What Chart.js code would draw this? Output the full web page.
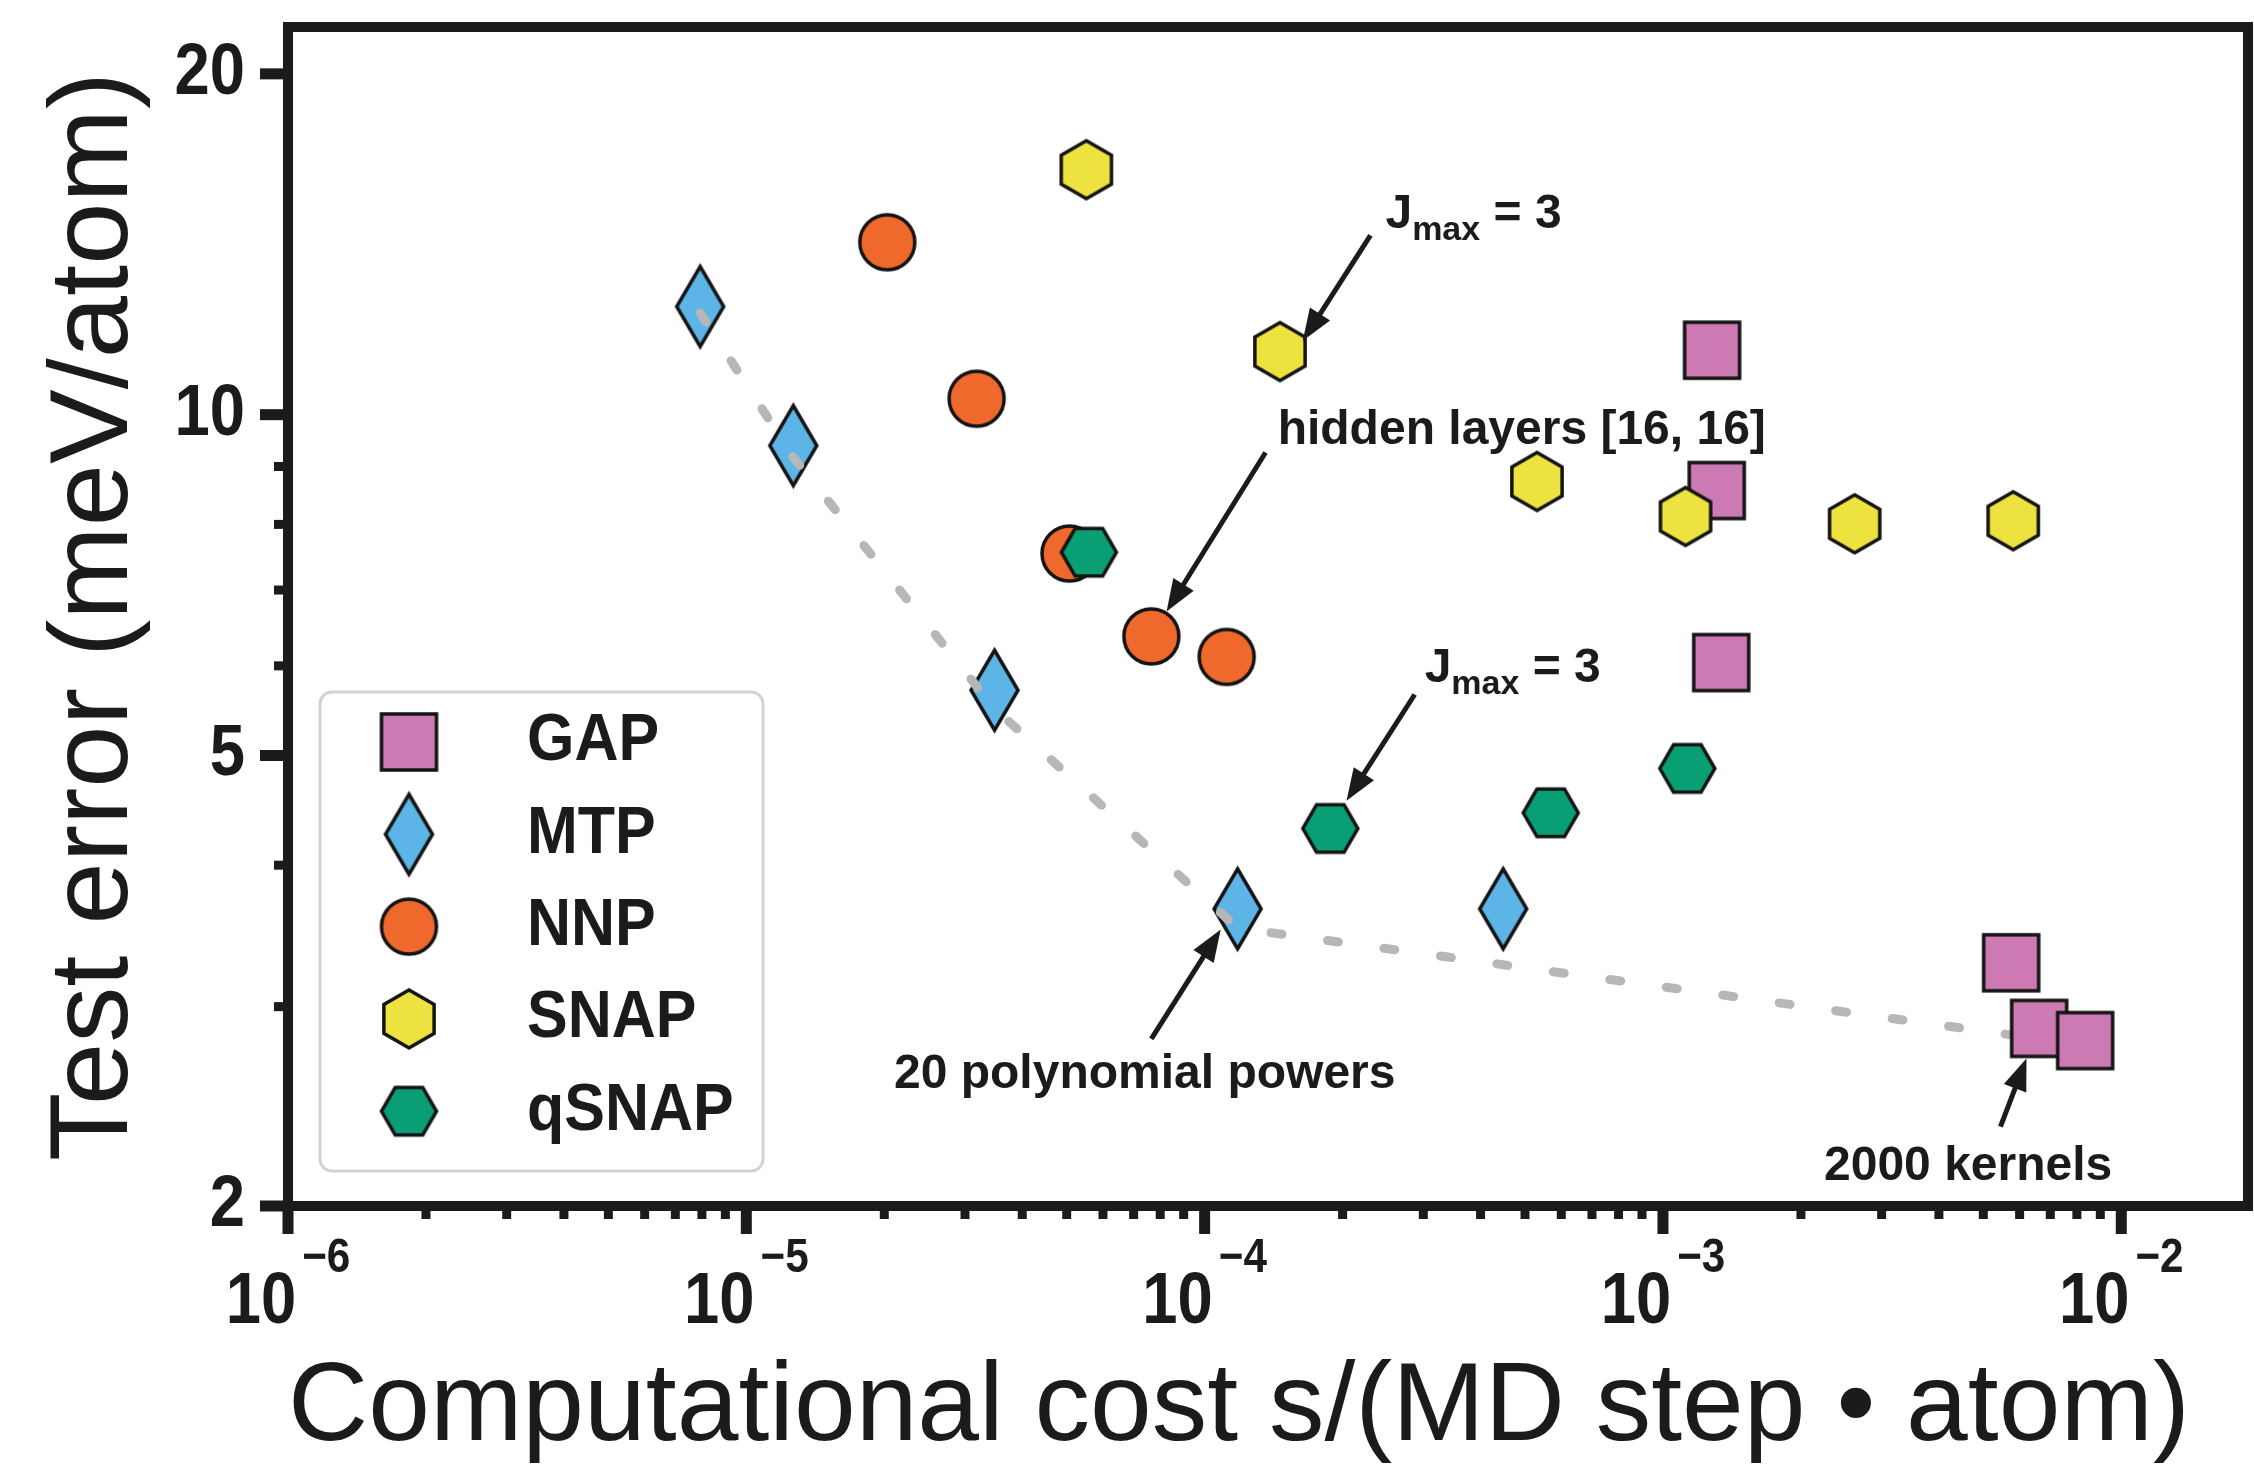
<!DOCTYPE html>
<html>
<head>
<meta charset="utf-8">
<script src="https://cdn.jsdelivr.net/npm/chart.js@4.4.1/dist/chart.umd.min.js"></script>
<style>
  html, body { margin: 0; padding: 0; background: #fff; }
  #wrap { width: 2254px; height: 1470px; position: relative; }
</style>
</head>
<body>
<div id="wrap"><canvas id="chart"></canvas></div>
<script>
// values: cost in s/(MD step · atom), test error in meV/atom
const gapCost = [1.28e-3, 1.31e-3, 1.34e-3, 5.75e-3, 6.62e-3, 8.34e-3];
const gapError = [11.4, 8.57, 6.04, 3.28, 2.87, 2.80];

const mtpCost = [7.93e-6, 1.266e-5, 3.48e-5, 1.18e-4, 4.48e-4];
const mtpError = [12.46, 9.39, 5.71, 3.66, 3.66];

const nnpCost = [2.03e-5, 3.18e-5, 5.07e-5, 7.65e-5, 1.117e-4];
const nnpError = [14.2, 10.33, 7.54, 6.37, 6.11];

const snapCost = [5.52e-5, 1.46e-4, 5.31e-4, 1.12e-3, 2.62e-3, 5.81e-3];
const snapError = [16.46, 11.37, 8.73, 8.13, 8.01, 8.06];

const qsnapCost = [5.59e-5, 1.88e-4, 5.69e-4, 1.13e-3];
const qsnapError = [7.56, 4.31, 4.45, 4.87];

// dotted pareto front
const frontCost = [7.93e-6, 1.266e-5, 3.48e-5, 1.18e-4, 6.62e-3];
const frontError = [12.3, 9.17, 5.50, 3.52, 2.81];

const seriesNames = ['GAP', 'MTP', 'NNP', 'SNAP', 'qSNAP'];

// axes
const yMajorTicks = [2, 5, 10, 20];
const yMinorTicks = [3, 4, 6, 7, 8, 9];
const xMajorTicks = [1e-6, 1e-5, 1e-4, 1e-3, 1e-2];
const xTickExponents = ['\u22126', '\u22125', '\u22124', '\u22123', '\u22122'];
const xMinorSteps = [2, 3, 4, 5, 6, 7, 8, 9];
const xTitle = 'Computational cost s/(MD step \u2022 atom)';
const yTitle = 'Test error (meV/atom)';

// annotations (anchor = left end of text baseline)
const noteParts = [
    [['J', 0], ['max', 1], [' = 3', 0]],
    [['hidden layers [16, 16]', 0]],
    [['J', 0], ['max', 1], [' = 3', 0]],
    [['20 polynomial powers', 0]],
    [['2000 kernels', 0]]
];
const noteX = [2.48e-4, 1.443e-4, 3.02e-4, 2.10e-5, 2.246e-3];
const noteY = [14.63, 9.43, 5.81, 2.54, 2.11];
const arrowFromX = [2.30e-4, 1.358e-4, 2.873e-4, 7.65e-5, 5.45e-3];
const arrowFromY = [14.4, 9.26, 5.66, 2.81, 2.35];
const arrowToX = [1.637e-4, 8.26e-5, 2.04e-4, 1.084e-4, 6.21e-3];
const arrowToY = [11.62, 6.70, 4.56, 3.51, 2.70];

const INK = '#1b1b1b';
const FONT = "'Liberation Sans', Arial, Helvetica, sans-serif";

function toPoints(xs, ys) {
    return xs.map((x, i) => ({ x: x, y: ys[i] }));
}

// marker glyphs as small canvases (chart.js has no hexagon / thin diamond)
function makeMarker(kind, fill) {
    const c = document.createElement('canvas');
    const lw = 3.5;
    let w, h;
    if (kind === 'square') { w = 55; h = 56; }
    else if (kind === 'diamond') { w = 47; h = 80; }
    else if (kind === 'circle') { w = 55; h = 55; }
    else if (kind === 'hexUp') { w = 50; h = 58; }
    else { w = 55; h = 48; }
    c.width = Math.ceil(w + 14);
    c.height = Math.ceil(h + 14);
    const g = c.getContext('2d');
    g.translate(c.width / 2, c.height / 2);
    g.beginPath();
    if (kind === 'square') {
        g.rect(-w / 2, -h / 2, w, h);
    } else if (kind === 'diamond') {
        g.moveTo(0, -h / 2); g.lineTo(w / 2, 0); g.lineTo(0, h / 2); g.lineTo(-w / 2, 0);
        g.closePath();
    } else if (kind === 'circle') {
        g.arc(0, 0, w / 2, 0, Math.PI * 2);
    } else {
        const r = kind === 'hexUp' ? h / 2 : w / 2;
        const start = kind === 'hexUp' ? -Math.PI / 2 : 0;
        for (let k = 0; k < 6; k++) {
            const a = start + k * Math.PI / 3;
            if (k === 0) g.moveTo(r * Math.cos(a), r * Math.sin(a));
            else g.lineTo(r * Math.cos(a), r * Math.sin(a));
        }
        g.closePath();
    }
    g.fillStyle = fill;
    g.fill();
    g.lineWidth = lw;
    g.lineJoin = 'miter';
    g.strokeStyle = '#141414';
    g.stroke();
    return c;
}

const markers = [
    makeMarker('square', '#CD7AB4'),
    makeMarker('diamond', '#5DB4E6'),
    makeMarker('circle', '#F0692C'),
    makeMarker('hexUp', '#EDE23F'),
    makeMarker('hexFlat', '#0A9E74')
];

// frame + tick marks + tick labels
const axesPlugin = {
    id: 'axesPlugin',
    beforeDatasetsDraw(chart) {
        const { ctx, chartArea: a, scales: { x, y } } = chart;
        ctx.save();
        ctx.strokeStyle = INK;
        ctx.lineWidth = 10;
        ctx.strokeRect(a.left, a.top, a.right - a.left, a.bottom - a.top);

        const tick = (x1, y1, x2, y2, w) => {
            ctx.lineWidth = w;
            ctx.beginPath(); ctx.moveTo(x1, y1); ctx.lineTo(x2, y2); ctx.stroke();
        };
        yMajorTicks.forEach(v => {
            const py = y.getPixelForValue(v);
            tick(a.left - 28, py, a.left, py, 11);
        });
        yMinorTicks.forEach(v => {
            const py = y.getPixelForValue(v);
            tick(a.left - 14, py, a.left, py, 9);
        });
        xMajorTicks.forEach(v => {
            const px = x.getPixelForValue(v);
            tick(px, a.bottom, px, a.bottom + 28, 11);
        });
        xMajorTicks.forEach(d => {
            xMinorSteps.forEach(m => {
                const v = d * m;
                if (v >= x.max) return;
                const px = x.getPixelForValue(v);
                tick(px, a.bottom, px, a.bottom + 13, 9);
            });
        });

        // labels, slightly condensed bold
        const squeeze = 0.88;
        ctx.fillStyle = INK;
        ctx.textBaseline = 'middle';
        ctx.textAlign = 'right';
        ctx.font = 'bold 72px ' + FONT;
        yMajorTicks.forEach(v => {
            const py = y.getPixelForValue(v);
            ctx.save();
            ctx.translate(a.left - 43, py);
            ctx.scale(squeeze, 1);
            ctx.fillText(String(v), 0, 0);
            ctx.restore();
        });

        ctx.textBaseline = 'alphabetic';
        ctx.textAlign = 'left';
        xMajorTicks.forEach((v, i) => {
            const px = x.getPixelForValue(v);
            ctx.font = 'bold 72px ' + FONT;
            const wb = ctx.measureText('10').width * squeeze;
            ctx.font = 'bold 48px ' + FONT;
            const we = ctx.measureText(xTickExponents[i]).width * squeeze;
            const gap = 6;
            const start = px - (wb + gap + we) / 2;
            ctx.save();
            ctx.translate(start, a.bottom + 117);
            ctx.scale(squeeze, 1);
            ctx.font = 'bold 72px ' + FONT;
            ctx.fillText('10', 0, 0);
            ctx.restore();
            ctx.save();
            ctx.translate(start + wb + gap, a.bottom + 66);
            ctx.scale(squeeze, 1);
            ctx.font = 'bold 48px ' + FONT;
            ctx.fillText(xTickExponents[i], 0, 0);
            ctx.restore();
        });
        ctx.restore();
    }
};

// arrows and their text
const notesPlugin = {
    id: 'notesPlugin',
    afterDatasetsDraw(chart) {
        const { ctx, scales: { x, y } } = chart;
        ctx.save();
        ctx.fillStyle = INK;
        ctx.strokeStyle = INK;
        ctx.textBaseline = 'alphabetic';
        ctx.textAlign = 'left';
        noteParts.forEach((parts, i) => {
            let px = x.getPixelForValue(noteX[i]);
            const py = y.getPixelForValue(noteY[i]);
            parts.forEach(([txt, sub]) => {
                ctx.font = sub ? 'bold 34px ' + FONT : 'bold 48px ' + FONT;
                ctx.fillText(txt, px, sub ? py + 12 : py);
                px += ctx.measureText(txt).width;
            });

            const x1 = x.getPixelForValue(arrowFromX[i]);
            const y1 = y.getPixelForValue(arrowFromY[i]);
            const x2 = x.getPixelForValue(arrowToX[i]);
            const y2 = y.getPixelForValue(arrowToY[i]);
            const len = Math.hypot(x2 - x1, y2 - y1);
            const ux = (x2 - x1) / len, uy = (y2 - y1) / len;
            const head = 32, half = 12;
            const bx = x2 - ux * head, by = y2 - uy * head;
            ctx.lineWidth = 5;
            ctx.beginPath(); ctx.moveTo(x1, y1); ctx.lineTo(bx + ux * 4, by + uy * 4); ctx.stroke();
            ctx.beginPath();
            ctx.moveTo(x2, y2);
            ctx.lineTo(bx - uy * half, by + ux * half);
            ctx.lineTo(bx + uy * half, by - ux * half);
            ctx.closePath();
            ctx.fill();
        });
        ctx.restore();
    }
};

// boxed legend in lower left of the plot
const legendPlugin = {
    id: 'legendPlugin',
    afterDraw(chart) {
        const { ctx, chartArea: a } = chart;
        const left = a.left + 32, bottom = a.bottom - 35;
        const w = 443, h = 479, top = bottom - h;
        ctx.save();
        ctx.beginPath();
        ctx.roundRect(left, top, w, h, 12);
        ctx.fillStyle = 'rgba(255,255,255,0.85)';
        ctx.fill();
        ctx.lineWidth = 3;
        ctx.strokeStyle = '#d2d2d2';
        ctx.stroke();

        ctx.fillStyle = INK;
        ctx.textBaseline = 'middle';
        ctx.textAlign = 'left';
        ctx.font = 'bold 67px ' + FONT;
        seriesNames.forEach((name, i) => {
            const cy = top + 50 + i * 92.3;
            const m = markers[i];
            ctx.drawImage(m, left + 89 - m.width / 2, cy - m.height / 2);
            ctx.save();
            ctx.translate(left + 207, cy);
            ctx.scale(0.91, 1);
            ctx.fillText(name, 0, 0);
            ctx.restore();
        });
        ctx.restore();
    }
};

const pointSet = (i, xs, ys, order) => ({
    label: seriesNames[i],
    data: toPoints(xs, ys),
    pointStyle: markers[i],
    pointRadius: 28,
    order: order
});

new Chart(document.getElementById('chart'), {
    type: 'scatter',
    data: {
        datasets: [
            pointSet(0, gapCost, gapError, 4),
            pointSet(1, mtpCost, mtpError, 6),
            pointSet(2, nnpCost, nnpError, 3),
            pointSet(3, snapCost, snapError, 2),
            pointSet(4, qsnapCost, qsnapError, 1),
            {
                label: 'front',
                data: toPoints(frontCost, frontError),
                showLine: true,
                pointRadius: 0,
                borderColor: '#b7b7b7',
                borderWidth: 9,
                borderDash: [11, 46],
                borderCapStyle: 'round',
                tension: 0,
                order: 5
            }
        ]
    },
    options: {
        responsive: true,
        maintainAspectRatio: false,
        animation: false,
        events: [],
        layout: { autoPadding: false, padding: { top: 27, right: 6, left: 0, bottom: 0 } },
        plugins: {
            legend: { display: false },
            tooltip: { enabled: false }
        },
        scales: {
            x: {
                type: 'logarithmic',
                min: 1e-6,
                max: 0.0189,
                afterBuildTicks: s => { s.ticks = xMajorTicks.map(v => ({ value: v })); },
                afterFit: s => { s.height = 264; },
                ticks: { display: false },
                grid: { display: false },
                border: { display: false },
                title: {
                    display: true,
                    text: xTitle,
                    align: 'start',
                    color: INK,
                    padding: 0,
                    font: { family: FONT, size: 111, lineHeight: 1.1 }
                }
            },
            y: {
                type: 'logarithmic',
                min: 2,
                max: 22,
                afterBuildTicks: s => { s.ticks = yMajorTicks.map(v => ({ value: v })); },
                afterFit: s => { s.width = 288; },
                ticks: { display: false },
                grid: { display: false },
                border: { display: false },
                title: {
                    display: true,
                    text: yTitle,
                    color: INK,
                    padding: { top: 35, bottom: 0 },
                    font: { family: FONT, size: 112, lineHeight: 1.1 }
                }
            }
        }
    },
    plugins: [axesPlugin, notesPlugin, legendPlugin]
});
</script>
</body>
</html>
